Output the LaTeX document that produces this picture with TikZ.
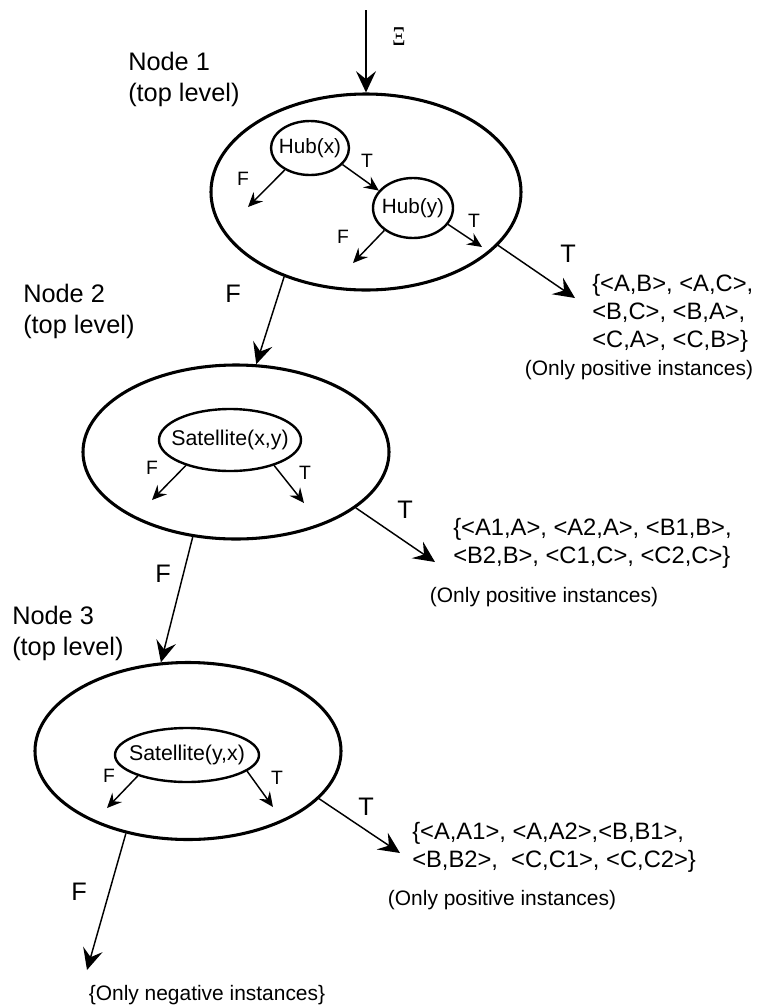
\documentclass[tikz,border=0pt]{standalone}
\usepackage{fontspec}
\setmainfont{Liberation Sans}
\newfontfamily\greekserif{Liberation Serif}
\usetikzlibrary{arrows.meta,shapes.geometric}
\tikzset{
  bigarrow/.style={-{Stealth[length=16pt,width=15pt,inset=6pt]}, line width=1.1pt},
  smallarrow/.style={-{Stealth[length=11pt,width=10pt,inset=4pt]}, line width=1.1pt},
  outerell/.style={draw, ellipse, line width=2.3pt, inner sep=0pt},
  innerell/.style={draw, ellipse, line width=1.8pt, inner sep=0pt},
  biglbl/.style={inner sep=0pt, anchor=base, font=\fontsize{19}{23}\selectfont},
  smlbl/.style={inner sep=0pt, anchor=base, font=\fontsize{14.5}{17}\selectfont},
  nodelbl/.style={inner sep=0pt, anchor=base west, align=left, font=\fontsize{19}{23.25}\selectfont},
  settext/.style={inner sep=0pt, anchor=base west, align=left, font=\fontsize{17.8}{20.8}\selectfont},
  notetext/.style={inner sep=0pt, anchor=base, font=\fontsize{15.7}{18}\selectfont},
}
\begin{document}
\begin{tikzpicture}[x=0.75pt,y=-0.75pt]
\useasboundingbox (0,0) rectangle (757,1008);

% ---------- outer nodes ----------
\node[outerell, minimum width=232.5pt, minimum height=147pt] (n1) at (366,192) {};
\node[outerell, minimum width=229.5pt, minimum height=130.5pt] (n2) at (236,452) {};
\node[outerell, minimum width=229.5pt, minimum height=132.75pt] (n3) at (188,751) {};

% ---------- inner nodes ----------
\node[innerell, minimum width=58.5pt, minimum height=40.5pt, font=\fontsize{15.5}{18}\selectfont] (hx) at (310,148) {\makebox[0pt]{Hub(x)}};
\node[innerell, minimum width=60pt, minimum height=45pt, font=\fontsize{15.5}{18}\selectfont] (hy) at (413,208) {\makebox[0pt]{Hub(y)}};
\node[innerell, minimum width=106.5pt, minimum height=46.5pt, font=\fontsize{16}{19}\selectfont] (sxy) at (230,440) {\makebox[0pt]{Satellite(x,y)}};
\node[innerell, minimum width=108pt, minimum height=40.5pt, font=\fontsize{16}{19}\selectfont] (syx) at (187,755) {\makebox[0pt]{Satellite(y,x)}};

% ---------- labels (base = baseline of last line) ----------
\node[nodelbl] (l1) at (128,101) {Node 1\\(top level)};
\node[nodelbl] (l2) at (23,333) {Node 2\\(top level)};
\node[nodelbl] (l3) at (12,655) {Node 3\\(top level)};

\node[inner sep=0pt, font=\fontsize{17}{20}\greekserif] (xi) at (399,37) {\scalebox{0.9}[1.2]{Ξ}};

\node[settext] (s1) at (592,347) {\{<A,B>, <A,C>,\\<B,C>, <B,A>,\\<C,A>, <C,B>\}};
\node[notetext] (p1) at (639,375) {(Only positive instances)};
\node[settext] (s2) at (453,563) {\{<A1,A>, <A2,A>, <B1,B>,\\<B2,B>, <C1,C>, <C2,C>\}};
\node[notetext] (p2) at (544,602) {(Only positive instances)};
\node[settext] (s3) at (412,867) {\{<A,A1>, <A,A2>,<B,B1>,\\<B,B2>,\ \ <C,C1>, <C,C2>\}};
\node[notetext] (p3) at (502,905) {(Only positive instances)};
\node[notetext] (neg) at (207,1000) {\{Only negative instances\}};

% ---------- free ends ----------
\coordinate (top) at (366,10);
\coordinate (hxF) at (248,207);
\coordinate (hyF) at (353,263);
\coordinate (hyT) at (482,247);
\coordinate (n1T) at (575,298);
\coordinate (sxyF) at (152,500);
\coordinate (sxyT) at (304,503);
\coordinate (n2T) at (435,562);
\coordinate (syxF) at (107,808);
\coordinate (syxT) at (273,807);
\coordinate (n3T) at (400,853);
\coordinate (n3F) at (87,970);

% ---------- connectors ----------
\draw[bigarrow] (top) -- (n1.north);
\draw[smallarrow] (hx.221) -- (hxF);
\draw[smallarrow] (hx.333) -- (hy.153);
\draw[smallarrow] (hy.218) -- (hyF);
\draw[smallarrow] (hy.335) -- (hyT);
\draw[bigarrow] (n1.-22.4) -- (n1T);
\draw[bigarrow] (n1.226) -- (n2.77);
\draw[smallarrow] (sxy.210) -- (sxyF);
\draw[smallarrow] (sxy.330) -- (sxyT);
\draw[bigarrow] (n2.-25.2) -- (n2T);
\draw[bigarrow] (n2.243) -- (n3.107.6);
\draw[smallarrow] (syx.203) -- (syxF);
\draw[smallarrow] (syx.-15) -- (syxT);
\draw[bigarrow] (n3.-20.8) -- (n3T);
\draw[bigarrow] (n3.233.4) -- (n3F);

% ---------- branch labels ----------
\node[smlbl] (fhx) at (243,185) {F};
\node[smlbl] (thx) at (367,167) {T};
\node[smlbl] (fhy) at (343,243) {F};
\node[smlbl] (thy) at (474,227) {T};
\node[biglbl] (tn1) at (568,262) {T};
\node[biglbl] (fn1) at (233,302) {F};
\node[smlbl] (fsxy) at (152,474) {F};
\node[smlbl] (tsxy) at (305,479) {T};
\node[biglbl] (tn2) at (405,518) {T};
\node[biglbl] (fn2) at (163,582) {F};
\node[smlbl] (fsyx) at (109,782) {F};
\node[smlbl] (tsyx) at (277,784) {T};
\node[biglbl] (tn3) at (366,815) {T};
\node[biglbl] (fn3) at (79,900) {F};
\end{tikzpicture}
\end{document}
